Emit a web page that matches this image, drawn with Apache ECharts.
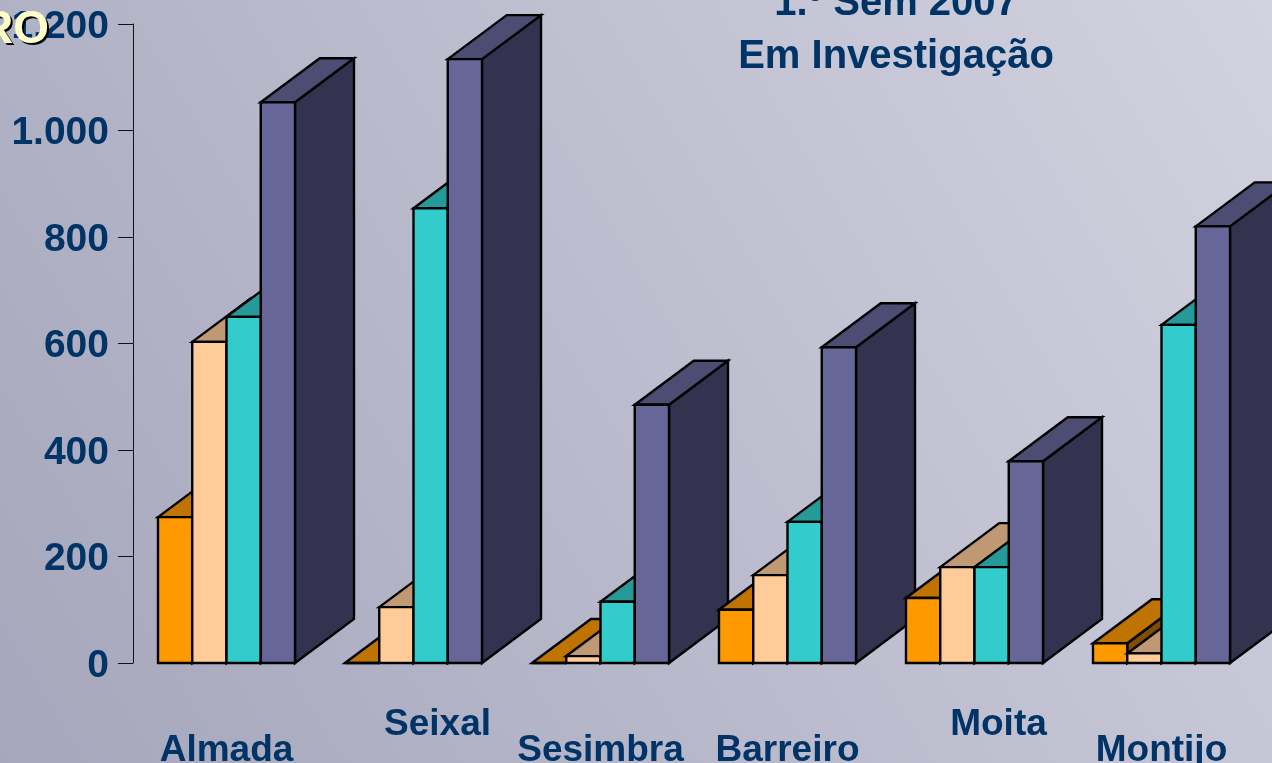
<!DOCTYPE html>
<html><head><meta charset="utf-8">
<style>html,body{margin:0;padding:0;overflow:hidden}#c{width:1272px;height:763px}</style>
<script src="https://cdn.jsdelivr.net/npm/echarts@6/dist/echarts.min.js"></script>
</head><body><div id="c"></div>
<script>
const categories = ['Almada','Seixal','Sesimbra','Barreiro','Moita','Montijo'];
const raisedLabels = ['Seixal','Moita'];
const seriesOrange = [274, 0, 0, 100, 122, 37];
const seriesPeach  = [603, 105, 13, 165, 180, 18];
const seriesTeal   = [650, 854, 115, 265, 180, 635];
const seriesPurple = [1053, 1134, 485, 593, 379, 820];
const yTicks = {min: 0, max: 1200, interval: 200};
const titleText = '1.º Sem 2007\nEm Investigação';
const cornerText = 'RO';
const allSeries = [seriesOrange, seriesPeach, seriesTeal, seriesPurple];
const palette = [
  {front:'#FF9900', top:'#BF7300', side:'#7F4D00'},
  {front:'#FFCC99', top:'#BF9973', side:'#7F6650'},
  {front:'#33CCCC', top:'#269999', side:'#1A6666'},
  {front:'#666699', top:'#4D4D73', side:'#33334F'}
];
const rows = [];
categories.forEach((c,i)=>allSeries.forEach((s,j)=>rows.push([i,j,s[i]])));
const FONT = '"Liberation Sans", Arial, sans-serif';
const NAVY = '#003366';
const groupFrac = 137/187, depthX = 59, depthY = 44;

function renderItem(params, api){
  const cat = api.value(0), ser = api.value(1), val = api.value(2);
  const band = api.size([1,0])[0];
  const bw = band*groupFrac/4;
  const base = api.coord([cat,0]);
  const top = api.coord([cat,val]);
  const x0 = base[0]-2*bw+ser*bw, x1 = x0+bw;
  const yb = base[1], yt = top[1];
  const c = palette[ser];
  const st = (fill)=>({fill, stroke:'#000', lineWidth:2.4, lineJoin:'miter'});
  return {type:'group', children:[
    {type:'polygon', shape:{points:[[x1,yb],[x1+depthX,yb-depthY],[x1+depthX,yt-depthY],[x1,yt]]}, style:st(c.side)},
    {type:'polygon', shape:{points:[[x0,yt],[x0+depthX,yt-depthY],[x1+depthX,yt-depthY],[x1,yt]]}, style:st(c.top)},
    {type:'polygon', shape:{points:[[x0,yb],[x0,yt],[x1,yt],[x1,yb]]}, style:st(c.front)}
  ]};
}

const chart = echarts.init(document.getElementById('c'), null, {renderer:'canvas', width:1272, height:763});
chart.setOption({
  animation:false,
  backgroundColor:{type:'linear',x:0,y:1,x2:1,y2:0,colorStops:[{offset:0,color:'#A6A6BC'},{offset:1,color:'#D2D2E0'}]},
  title:{text:titleText,left:891,top:-28,textAlign:'center',
    textStyle:{color:NAVY,fontFamily:FONT,fontWeight:'bold',fontSize:40,lineHeight:53}},
  grid:{left:133,top:24,width:1122,height:639,containLabel:false,outerBoundsMode:'none'},
  xAxis:{type:'category',data:categories,axisLine:{show:false},axisTick:{show:false},splitLine:{show:false},
    axisLabel:{interval:0,hideOverlap:false,margin:43,
      formatter:v=>raisedLabels.includes(v)?`{hi|${v}}`:`{lo|${v}}`,
      rich:{
        hi:{color:NAVY,fontFamily:FONT,fontWeight:'bold',fontSize:37,padding:[0,0,0,48]},
        lo:{color:NAVY,fontFamily:FONT,fontWeight:'bold',fontSize:37,padding:[26,0,0,0]}
      }}},
  yAxis:{type:'value',min:yTicks.min,max:yTicks.max,interval:yTicks.interval,
    splitLine:{show:false},
    axisLine:{show:true,lineStyle:{color:'#111',width:1}},
    axisTick:{show:true,length:15,lineStyle:{color:'#111',width:1}},
    axisLabel:{margin:24,
      formatter:v=>`{v|${v>=1000?String(v).replace(/(\d)(\d{3})$/,'$1.$2'):String(v)}}`,
      rich:{v:{color:NAVY,fontFamily:FONT,fontWeight:'bold',fontSize:39,padding:[6,0,0,0]}}}},
  graphic:[
    {type:'text',z:100,left:-18,top:9,style:{text:cornerText,fill:'#000',font:'bold 46px '+FONT}},
    {type:'text',z:101,left:-20,top:7,style:{text:cornerText,fill:'#FFFFCC',font:'bold 46px '+FONT}}
  ],
  series:[{type:'custom',renderItem,data:rows,encode:{x:0,y:2},clip:false,silent:true}]
});
</script></body></html>
